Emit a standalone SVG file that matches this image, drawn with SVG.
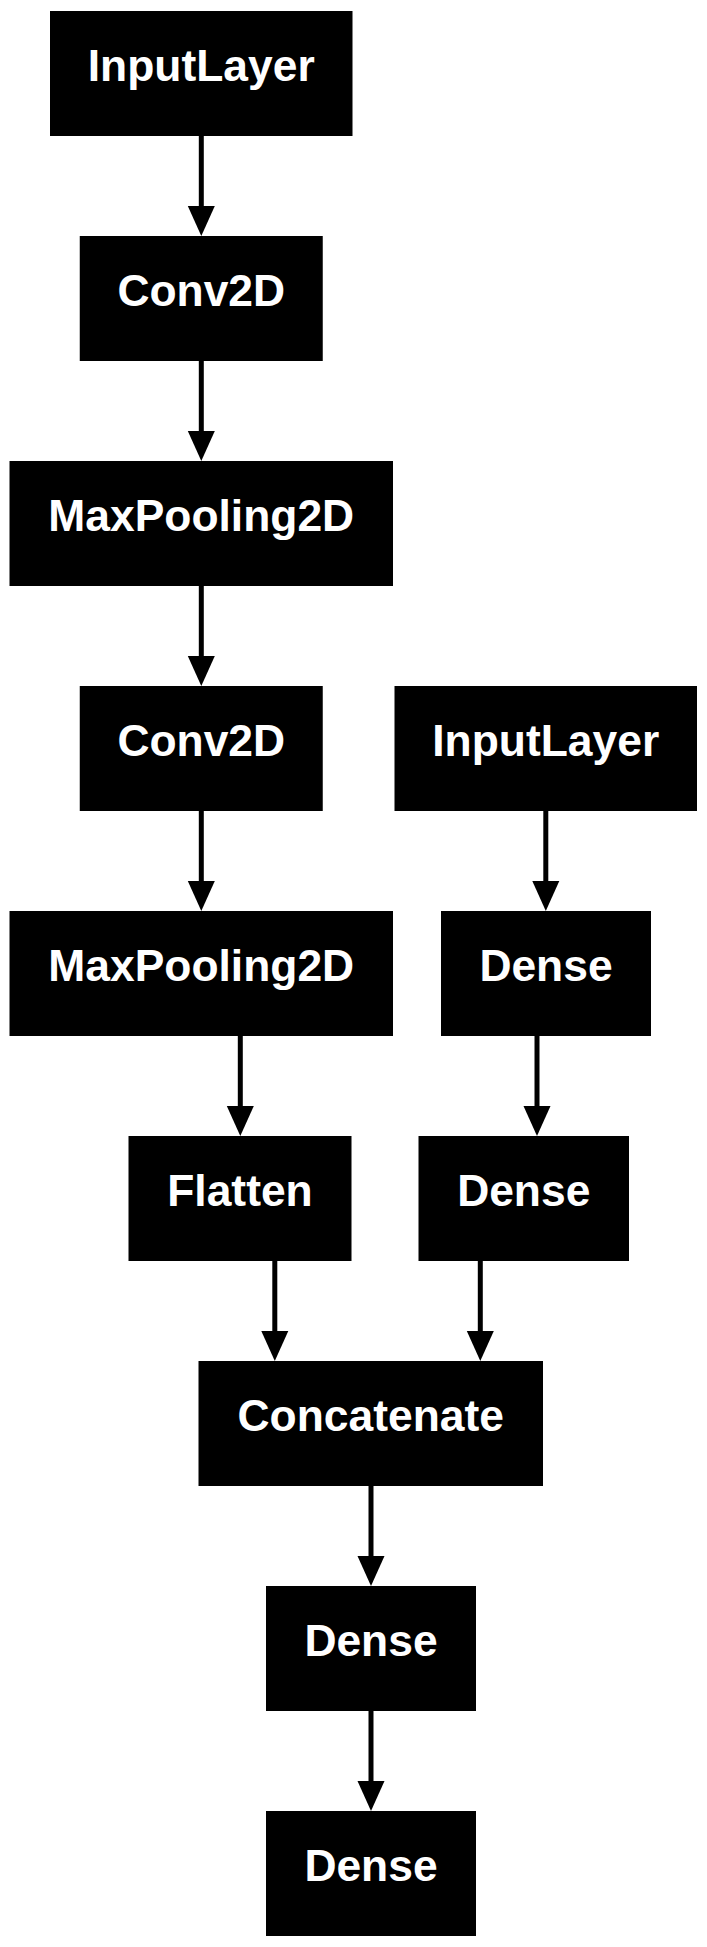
<svg xmlns="http://www.w3.org/2000/svg" width="707" height="1947" viewBox="0 0 707 1947">
<style>
.box{fill:#000;stroke:none}
.lbl{fill:#fff;font-family:"Liberation Sans",Arial,Helvetica,sans-serif;font-weight:bold;font-size:44.4px;text-anchor:middle}
.edge{stroke:#000;stroke-width:5;fill:none}
.head{fill:#000;stroke:none}
</style>
<rect x="0" y="0" width="707" height="1947" fill="#fff"/>
<g id="connectors">
<line class="edge" x1="201.3" y1="136" x2="201.3" y2="208"/><polygon class="head" points="187.8,206 214.8,206 201.3,236"/>
<line class="edge" x1="201.3" y1="361" x2="201.3" y2="433"/><polygon class="head" points="187.8,431 214.8,431 201.3,461"/>
<line class="edge" x1="201.3" y1="586" x2="201.3" y2="658"/><polygon class="head" points="187.8,656 214.8,656 201.3,686"/>
<line class="edge" x1="201.3" y1="811" x2="201.3" y2="883"/><polygon class="head" points="187.8,881 214.8,881 201.3,911"/>
<line class="edge" x1="240.3" y1="1036" x2="240.3" y2="1108"/><polygon class="head" points="226.8,1106 253.8,1106 240.3,1136"/>
<line class="edge" x1="545.8" y1="811" x2="545.8" y2="883"/><polygon class="head" points="532.3,881 559.3,881 545.8,911"/>
<line class="edge" x1="537" y1="1036" x2="537" y2="1108"/><polygon class="head" points="523.5,1106 550.5,1106 537,1136"/>
<line class="edge" x1="274.8" y1="1261" x2="274.8" y2="1333"/><polygon class="head" points="261.3,1331 288.3,1331 274.8,1361"/>
<line class="edge" x1="480.3" y1="1261" x2="480.3" y2="1333"/><polygon class="head" points="466.8,1331 493.8,1331 480.3,1361"/>
<line class="edge" x1="371" y1="1486" x2="371" y2="1558"/><polygon class="head" points="357.5,1556 384.5,1556 371,1586"/>
<line class="edge" x1="371" y1="1711" x2="371" y2="1783"/><polygon class="head" points="357.5,1781 384.5,1781 371,1811"/>
</g>
<g id="input_layer_1"><rect class="box" x="50" y="11" width="302.5" height="125"/><text class="lbl" x="201.25" y="81">InputLayer</text></g>
<g id="conv2d_1"><rect class="box" x="79.75" y="236" width="243" height="125"/><text class="lbl" x="201.25" y="306">Conv2D</text></g>
<g id="max_pooling2d_1"><rect class="box" x="9.5" y="461" width="383.5" height="125"/><text class="lbl" x="201.25" y="531">MaxPooling2D</text></g>
<g id="conv2d_2"><rect class="box" x="79.75" y="686" width="243" height="125"/><text class="lbl" x="201.25" y="756">Conv2D</text></g>
<g id="input_layer_2"><rect class="box" x="394.5" y="686" width="302.5" height="125"/><text class="lbl" x="545.75" y="756">InputLayer</text></g>
<g id="max_pooling2d_2"><rect class="box" x="9.5" y="911" width="383.5" height="125"/><text class="lbl" x="201.25" y="981">MaxPooling2D</text></g>
<g id="dense_1"><rect class="box" x="441" y="911" width="210" height="125"/><text class="lbl" x="546" y="981">Dense</text></g>
<g id="flatten"><rect class="box" x="128.5" y="1136" width="223" height="125"/><text class="lbl" x="240" y="1206">Flatten</text></g>
<g id="dense_2"><rect class="box" x="418.5" y="1136" width="210.5" height="125"/><text class="lbl" x="523.75" y="1206">Dense</text></g>
<g id="concatenate"><rect class="box" x="198.5" y="1361" width="344.5" height="125"/><text class="lbl" x="370.75" y="1431">Concatenate</text></g>
<g id="dense_3"><rect class="box" x="266" y="1586" width="210" height="125"/><text class="lbl" x="371" y="1656">Dense</text></g>
<g id="dense_4"><rect class="box" x="266" y="1811" width="210" height="125"/><text class="lbl" x="371" y="1881">Dense</text></g>
</svg>
